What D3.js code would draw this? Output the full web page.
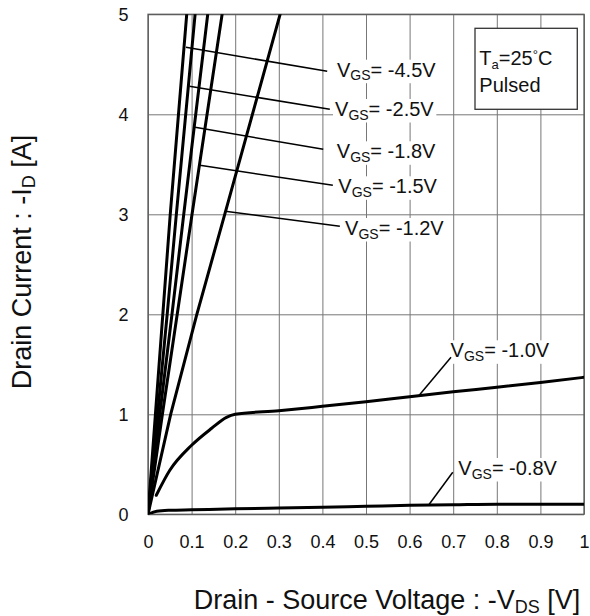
<!DOCTYPE html>
<html>
<head>
<meta charset="utf-8">
<script src="https://cdn.jsdelivr.net/npm/d3@7"></script>
<style>
  html, body { margin: 0; padding: 0; background: #fff; }
  svg { display: block; }
  text { font-family: "Liberation Sans", Arial, Helvetica, sans-serif; fill: #111; }
</style>
</head>
<body>
<svg id="chart" width="590" height="616"></svg>
<script>
// ---------- data ----------
const xTicks = [0, 0.1, 0.2, 0.3, 0.4, 0.5, 0.6, 0.7, 0.8, 0.9, 1];
const xTickLabels = ["0", "0.1", "0.2", "0.3", "0.4", "0.5", "0.6", "0.7", "0.8", "0.9", "1"];
const yTicks = [0, 1, 2, 3, 4, 5];
const yTickLabels = ["0", "1", "2", "3", "4", "5"];

// each series: [ -VDS (V), -ID (A) ]
const vgs45 = [[0, 0], [0.017, 1], [0.034, 2], [0.051, 3], [0.0888, 5]];
const vgs25 = [[0, 0], [0.022, 1], [0.044, 2], [0.065, 3], [0.108, 5]];
const vgs18 = [[0, 0], [0.027, 1], [0.055, 2], [0.082, 3], [0.137, 5]];
const vgs15 = [[0, 0], [0.033, 1], [0.067, 2], [0.101, 3], [0.170, 5]];
const vgs12 = [[0, 0], [0.052, 1], [0.112, 2], [0.176, 3], [0.303, 5]];
const vgs10 = [[0.019, 0.19], [0.05, 0.44], [0.1, 0.69], [0.146, 0.86], [0.18, 0.97], [0.2, 1.0],
               [0.3, 1.036], [0.4, 1.08], [0.5, 1.126], [0.6, 1.176], [0.7, 1.225], [0.8, 1.27],
               [0.9, 1.318], [1.0, 1.37]];
const vgs08 = [[0, 0], [0.02, 0.03], [0.05, 0.04], [0.1, 0.045], [0.2, 0.055], [0.3, 0.062],
               [0.4, 0.07], [0.5, 0.08], [0.6, 0.09], [0.7, 0.095], [0.8, 0.1], [0.9, 0.1], [1.0, 0.1]];

const linearSeries = [vgs45, vgs25, vgs18, vgs15, vgs12];
const saturatingSeries = [vgs10, vgs08];
const seriesNames = ["-4.5V", "-2.5V", "-1.8V", "-1.5V", "-1.2V", "-1.0V", "-0.8V"];

// annotation layout (data units): leader from curve point to label, and label baseline start
const annotations = [
  { name: "-4.5V", x1: 0.087, y1: 4.67, x2: 0.411, y2: 4.43, tx: 0.4335, ty: 4.376 },
  { name: "-2.5V", x1: 0.095, y1: 4.28, x2: 0.417, y2: 4.05, tx: 0.429, ty: 3.983 },
  { name: "-1.8V", x1: 0.108, y1: 3.87, x2: 0.402, y2: 3.65, tx: 0.433, ty: 3.56 },
  { name: "-1.5V", x1: 0.119, y1: 3.49, x2: 0.424, y2: 3.29, tx: 0.4365, ty: 3.21 },
  { name: "-1.2V", x1: 0.177, y1: 3.03, x2: 0.44, y2: 2.88, tx: 0.452, ty: 2.793 },
  { name: "-1.0V", x1: 0.622, y1: 1.19, x2: 0.695, y2: 1.57, tx: 0.694, ty: 1.57 },
  { name: "-0.8V", x1: 0.645, y1: 0.10, x2: 0.699, y2: 0.42, tx: 0.7117, ty: 0.393 }
];

// ---------- layout ----------
const svg = d3.select("#chart");
const pLeft = 148, pRight = 584, pTop = 14.3, pBottom = 514.3;
const x = d3.scaleLinear().domain([0, 1]).range([pLeft, pRight]);
const y = d3.scaleLinear().domain([0, 5]).range([pBottom, pTop]);

svg.append("defs").append("clipPath").attr("id", "plotClip")
  .append("rect").attr("x", pLeft).attr("y", pTop).attr("width", pRight - pLeft).attr("height", pBottom - pTop);

// grid + tick labels via axes
const gx = svg.append("g").attr("transform", `translate(0,${pBottom})`)
  .call(d3.axisBottom(x).tickValues(xTicks).tickFormat((d, i) => xTickLabels[i])
    .tickSize(-(pBottom - pTop)).tickPadding(21));
const gy = svg.append("g").attr("transform", `translate(${pLeft},0)`)
  .call(d3.axisLeft(y).tickValues(yTicks).tickFormat((d, i) => yTickLabels[i])
    .tickSize(-(pRight - pLeft)).tickPadding(19.5));
[gx, gy].forEach(g => {
  g.select(".domain").remove();
  g.selectAll(".tick line").attr("stroke", "#777").attr("stroke-width", 1);
  g.selectAll(".tick text").attr("font-size", 18).attr("fill", "#111")
    .attr("font-family", '"Liberation Sans", Arial, sans-serif');
});

const bgLayer = svg.append("g");

// border
svg.append("rect").attr("x", pLeft).attr("y", pTop).attr("width", pRight - pLeft).attr("height", pBottom - pTop)
  .attr("fill", "none").attr("stroke", "#5a5a5a").attr("stroke-width", 1.3);

// curves
const curveG = svg.append("g").attr("clip-path", "url(#plotClip)");
const lineLin = d3.line().x(d => x(d[0])).y(d => y(d[1])).curve(d3.curveLinear);
const lineSmooth = d3.line().x(d => x(d[0])).y(d => y(d[1])).curve(d3.curveMonotoneX);
curveG.selectAll("path.lin").data(linearSeries).join("path").attr("class", "lin")
  .attr("d", lineLin);
curveG.selectAll("path.sat").data(saturatingSeries).join("path").attr("class", "sat")
  .attr("d", lineSmooth);
curveG.selectAll("path").attr("fill", "none").attr("stroke", "#000")
  .attr("stroke-width", 3).attr("stroke-linejoin", "round").attr("stroke-linecap", "round");

// leaders
svg.append("g").selectAll("line").data(annotations).join("line")
  .attr("x1", d => x(d.x1)).attr("y1", d => y(d.y1))
  .attr("x2", d => x(d.x2)).attr("y2", d => y(d.y2))
  .attr("stroke", "#000").attr("stroke-width", 1.5);

// labels
const labelG = svg.append("g");
annotations.forEach(a => {
  const t = labelG.append("text").attr("x", x(a.tx)).attr("y", y(a.ty)).attr("font-size", 20);
  t.append("tspan").text("V");
  t.append("tspan").attr("font-size", 14).attr("dy", 3.5).text("GS");
  t.append("tspan").attr("dy", -3.5).text("= " + a.name);
  const bb = t.node().getBBox();
  bgLayer.append("rect").attr("x", bb.x - 2).attr("y", bb.y + 1).attr("width", bb.width + 4)
    .attr("height", bb.height - 1).attr("fill", "#fff");
});

// condition box
const bx0 = x(0.75), bx1 = x(0.9846), by0 = y(4.86), by1 = y(4.05);
svg.append("rect").attr("x", bx0).attr("y", by0).attr("width", bx1 - bx0).attr("height", by1 - by0)
  .attr("fill", "#fff").attr("stroke", "#333").attr("stroke-width", 1.3);
const t1 = svg.append("text").attr("x", x(0.76)).attr("y", y(4.493)).attr("font-size", 20);
t1.append("tspan").text("T");
t1.append("tspan").attr("font-size", 13).attr("dy", 4).text("a");
t1.append("tspan").attr("dy", -4).text("=25");
t1.append("tspan").attr("font-size", 13).attr("dy", -6).text("°");
t1.append("tspan").attr("dy", 6).text("C");
svg.append("text").attr("x", x(0.76)).attr("y", y(4.226)).attr("font-size", 20).text("Pulsed");

// axis titles
const xt = svg.append("text").attr("x", 387).attr("y", 609).attr("text-anchor", "middle").attr("font-size", 27);
xt.append("tspan").text("Drain - Source Voltage : -V");
xt.append("tspan").attr("font-size", 18).attr("dy", 4).text("DS");
xt.append("tspan").attr("dy", -4).text(" [V]");

const yt = svg.append("text").attr("transform", "translate(31,262) rotate(-90)")
  .attr("text-anchor", "middle").attr("font-size", 27);
yt.append("tspan").text("Drain Current : -I");
yt.append("tspan").attr("font-size", 18).attr("dy", 4).text("D");
yt.append("tspan").attr("dy", -4).text(" [A]");
</script>
</body>
</html>
